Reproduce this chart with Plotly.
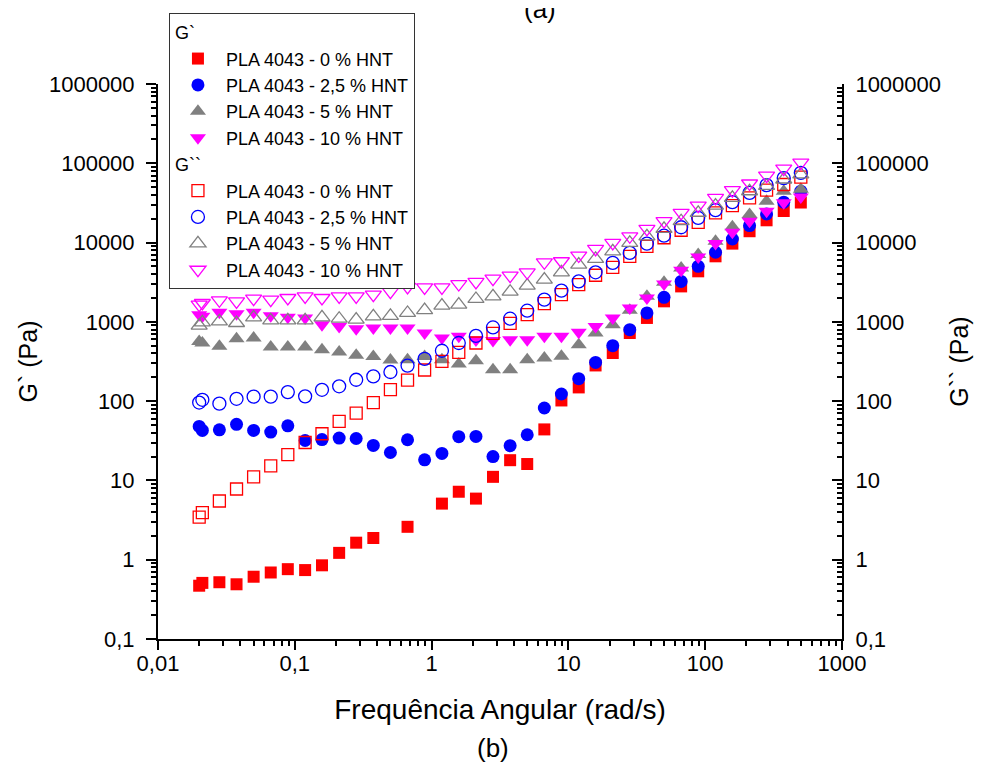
import plotly.graph_objects as go

# Angular frequency (rad/s)
freq = [0.02, 0.0211, 0.0281, 0.0375, 0.05, 0.0667, 0.0889, 0.119, 0.158, 0.211,
        0.281, 0.375, 0.5, 0.667, 0.889, 1.19, 1.58, 2.11, 2.81, 3.75,
        5.0, 6.67, 8.89, 11.9, 15.8, 21.1, 28.1, 37.5, 50.0, 66.7,
        88.9, 119, 158, 211, 281, 375, 500]

# G' (storage modulus, Pa)
gp_0 = [0.47, 0.51, 0.52, 0.49, 0.61, 0.69, 0.76, 0.74, 0.85, 1.22,
        1.64, 1.88, None, 2.6, None, 5.1, 7.2, 5.9, 11.1, 18.0,
        16.1, 44, 102, 149, 282, 405, 724, 1120, 1815, 2800,
        4340, 6710, 9700, 13900, 19100, 25000, 32000]
gp_25 = [48, 42.7, 43.5, 51, 42.7, 40.7, 48.9, 31.9, 32.8, 34.2,
         33.8, 27.6, 22.5, 32.6, 18.2, 21.9, 35.6, 35.9, 20, 27.4,
         37.7, 82, 123, 192, 308, 500, 798, 1295, 2040, 3240,
         5020, 7550, 11100, 16400, 23000, 32300, 44500]
gp_5 = [567, 541, 491, 614, 627, 482, 482, 482, 446, 417,
        378, 366, 330, 333, 366, 333, 295, 324, 249, 249,
        333, 350, 367, 515, 724, 922, 1400, 2100, 3150, 4790,
        7050, 10400, 15800, 22600, 33200, 44400, 47000]
gp_10 = [1233, 1180, 1318, 1270, 1318, 1197, 1140, 1120, 922, 877,
         820, 837, 837, 837, 724, 627, 656, 590, 580, 596,
         596, 656, 656, 738, 877, 1120, 1500, 2000, 3010, 4470,
         6590, 9700, 13500, 18600, 24800, 31700, 37500]

# G'' (loss modulus, Pa)
gpp_0 = [3.44, 3.93, 5.5, 7.8, 11.1, 15.3, 21.2, 30.1, 38.8, 55.5,
         70.8, 96, 140, 184, 247, 317, 412, 541, 715, 958,
         1233, 1700, 2200, 2950, 3870, 4870, 6710, 8980, 11500, 14300,
         18000, 23700, 29300, 36600, 45800, 54000, 67000]
gpp_25 = [96, 104, 93, 107, 114, 114, 130, 115, 139, 154,
          186, 205, 233, 281, 341, 432, 541, 666, 850, 1096,
          1383, 1905, 2480, 3245, 4220, 5540, 7410, 9700, 12200, 15600,
          20500, 25600, 32300, 42400, 53000, 65000, 75800]
gpp_5 = [895, 986, 1015, 968, 1140, 1045, 1045, 1045, 1140, 1096,
         1066, 1175, 1190, 1295, 1410, 1600, 1650, 1945, 2100, 2400,
         2860, 3410, 4220, 5270, 6220, 7760, 9910, 12000, 14900, 18600,
         23700, 29300, 36600, 44400, 52000, 62400, 72300]
gpp_10 = [1650, 1730, 1870, 1815, 1965, 1905, 2000, 2100, 2000, 2100,
          2100, 2200, 2400, 2760, 2720, 2720, 3000, 3200, 3510, 3830,
          4220, 5640, 5810, 6860, 8320, 9910, 12000, 14900, 18600, 23700,
          29300, 36600, 45800, 55600, 70000, 85600, 102000]

series_names = ["PLA 4043 - 0 % HNT", "PLA 4043 - 2,5 % HNT",
                "PLA 4043 - 5 % HNT", "PLA 4043 - 10 % HNT"]
colors = ["#FF0000", "#0000FF", "#808080", "#FF00FF"]
filled_symbols = ["square", "circle", "triangle-up", "triangle-down"]
open_symbols = ["square-open", "circle-open", "triangle-up-open", "triangle-down-open"]
sizes = [12, 13, 14, 14]

x_tickvals = [0.01, 0.1, 1, 10, 100, 1000]
x_ticktext = ["0,01", "0,1", "1", "10", "100", "1000"]
y_tickvals = [0.1, 1, 10, 100, 1000, 10000, 100000, 1000000]
y_ticktext = ["0,1", "1", "10", "100", "1000", "10000", "100000", "1000000"]

FONT = "Arial, Liberation Sans, sans-serif"

fig = go.Figure()

for i, ys in enumerate([gp_0, gp_25, gp_5, gp_10]):
    fig.add_trace(go.Scatter(
        x=freq, y=ys, mode="markers", name=series_names[i],
        legendgroup="gp", legendgrouptitle=dict(text="G`") if i == 0 else None,
        marker=dict(symbol=filled_symbols[i], color=colors[i], size=sizes[i],
                    line=dict(width=0)),
        xaxis="x", yaxis="y"))

for i, ys in enumerate([gpp_0, gpp_25, gpp_5, gpp_10]):
    fig.add_trace(go.Scatter(
        x=freq, y=ys, mode="markers", name=series_names[i],
        legendgroup="gpp", legendgrouptitle=dict(text="G``") if i == 0 else None,
        marker=dict(symbol=open_symbols[i], color=colors[i], size=sizes[i],
                    line=dict(width=1.3, color=colors[i])),
        xaxis="x", yaxis="y2"))

minor_x = [k * 10 ** d for d in range(-2, 3) for k in range(2, 10)]
minor_y = [k * 10 ** d for d in range(-1, 6) for k in range(2, 10)]

fig.update_layout(
    width=986, height=767, autosize=False,
    margin=dict(l=150, r=152, t=76, b=136, pad=0, autoexpand=False),
    paper_bgcolor="white", plot_bgcolor="white",
    font=dict(family=FONT, color="black", size=22),
    showlegend=True,
    legend=dict(
        x=0.016, y=1.128, xanchor="left", yanchor="top",
        bgcolor="white", bordercolor="#333333", borderwidth=1,
        font=dict(size=18, family=FONT, color="black"),
        grouptitlefont=dict(size=18, family=FONT, color="black"),
        tracegroupgap=0, itemsizing="trace", itemwidth=46,
    ),
    xaxis=dict(
        type="log", range=[-2, 3],
        tickvals=x_tickvals, ticktext=x_ticktext,
        ticks="outside", ticklen=9, tickwidth=2, tickcolor="black",
        showline=True, linecolor="black", linewidth=2,
        showgrid=False, zeroline=False, mirror=False,
        tickfont=dict(size=22), ticklabelstandoff=-5,
        minor=dict(tickvals=minor_x, ticks="outside", ticklen=5, tickwidth=1.5,
                   tickcolor="black", showgrid=False),
        title=dict(text="Frequência Angular (rad/s)", font=dict(size=28), standoff=24),
    ),
    yaxis=dict(
        type="log", range=[-1, 6],
        tickvals=y_tickvals, ticktext=y_ticktext,
        ticks="outside", ticklen=10, tickwidth=2, tickcolor="black",
        showline=True, linecolor="black", linewidth=2,
        showgrid=False, zeroline=False,
        tickfont=dict(size=22), ticklabelstandoff=7,
        minor=dict(tickvals=minor_y, ticks="outside", ticklen=5, tickwidth=1.5,
                   tickcolor="black", showgrid=False),
        title=dict(text="G` (Pa)", font=dict(size=25), standoff=4),
    ),
    yaxis2=dict(
        type="log", range=[-1, 6], overlaying="y", side="right", anchor="x",
        tickvals=y_tickvals, ticktext=y_ticktext,
        ticks="inside", ticklen=10, tickwidth=2, tickcolor="black",
        showline=True, linecolor="black", linewidth=2,
        showgrid=False, zeroline=False,
        tickfont=dict(size=22), ticklabelstandoff=7,
        minor=dict(tickvals=minor_y, ticks="inside", ticklen=5, tickwidth=1.5,
                   tickcolor="black", showgrid=False),
        title=dict(text="G`` (Pa)", font=dict(size=25), standoff=10),
    ),
    annotations=[
        dict(text="(a)", xref="paper", yref="paper", x=0.558, y=1.136,
             showarrow=False, font=dict(size=26), xanchor="center", yanchor="middle"),
        dict(text="(b)", xref="paper", yref="paper", x=0.49, y=-0.197,
             showarrow=False, font=dict(size=26), xanchor="center", yanchor="middle"),
    ],
)

fig.write_html("out.html")
